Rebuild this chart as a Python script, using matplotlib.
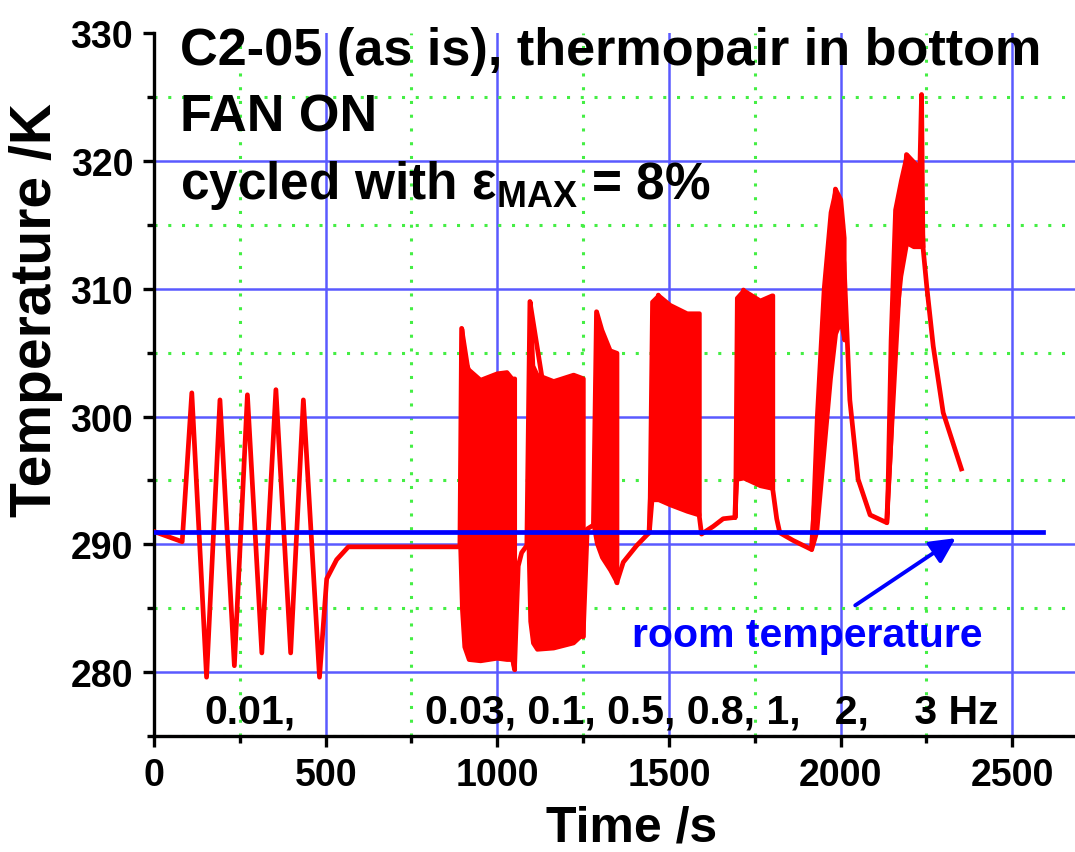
import numpy as np
import matplotlib
matplotlib.use('Agg')
import matplotlib.pyplot as plt
from matplotlib.ticker import MultipleLocator

plt.rcParams['font.family'] = 'Liberation Sans'
plt.rcParams['font.weight'] = 'bold'
plt.rcParams['axes.labelweight'] = 'bold'
plt.rcParams['mathtext.fontset'] = 'custom'
plt.rcParams['mathtext.rm'] = 'Liberation Sans:bold'
plt.rcParams['mathtext.bf'] = 'Liberation Sans:bold'

# Temperature trace outside the dense cycling blocks (time /s, T /K)
t_trace = [0, 82, 110, 153, 192, 234, 272, 314, 355, 398, 435, 482, 503, 532, 566, 891,
           896, 1050, 1061, 1071, 1086,
           1095, 1250, 1262, 1280,
           1289, 1348, 1367, 1406, 1442,
           1469, 1588, 1595, 1629, 1658, 1692,
           1717, 1802, 1814, 1823, 1862, 1915,
           1985, 2010, 2027, 2051, 2086, 2134,
           2192, 2231, 2236, 2240, 2251, 2270, 2299, 2352]
T_trace = [291.0, 290.2, 301.85, 279.6, 301.3, 280.5, 301.7, 281.5, 302.1, 281.5, 301.3, 279.6, 287.3, 288.8, 289.8, 289.8,
           306.9, 280.2, 288.3, 289.35, 289.9,
           309.0, 282.8, 291.2, 291.5,
           308.2, 287.0, 288.6, 289.9, 290.9,
           309.5, 292.3, 290.8, 291.4, 292.0, 292.1,
           309.9, 294.4, 292.0, 290.9, 290.3, 289.6,
           317.8, 312.0, 301.3, 295.1, 292.3, 291.7,
           320.5, 319.4, 325.2, 313.3, 310.2, 305.5, 300.3, 295.9]

# Envelopes of the fast cycling blocks (0.03 ... 3 Hz)
b1_t = [891, 896, 903, 916, 950, 998, 1027, 1042, 1050]
b1_hi = [289.8, 306.9, 304.5, 303.7, 302.9, 303.4, 303.5, 303.0, 303.0]
b1_lo = [289.8, 285.0, 282.0, 281.0, 280.9, 281.1, 281.0, 281.0, 280.2]

b2_t = [1090, 1095, 1103, 1115, 1163, 1221, 1241, 1250]
b2_hi = [289.9, 309.0, 304.0, 303.3, 302.8, 303.3, 303.1, 303.0]
b2_lo = [289.9, 284.0, 282.3, 281.8, 281.9, 282.3, 282.8, 282.8]

b3_t = [1280, 1289, 1304, 1328, 1348]
b3_hi = [291.5, 308.2, 306.8, 305.2, 305.0]
b3_lo = [291.5, 290.1, 289.0, 288.0, 287.0]

b4_t = [1442, 1450, 1469, 1503, 1552, 1588]
b4_hi = [290.9, 309.0, 309.5, 308.75, 308.1, 308.1]
b4_lo = [290.9, 293.5, 293.5, 293.1, 292.6, 292.3]

b5_t = [1692, 1697, 1717, 1765, 1799, 1802]
b5_hi = [292.1, 309.3, 309.9, 309.1, 309.5, 309.5]
b5_lo = [292.1, 295.1, 295.2, 294.6, 294.4, 294.4]

b6_t = [1915, 1930, 1950, 1970, 1985, 2000, 2010]
b6_hi = [289.6, 300.0, 310.0, 316.0, 317.8, 317.0, 314.0]
b6_lo = [289.6, 291.0, 297.0, 303.0, 306.5, 307.5, 306.0]

b7_t = [2134, 2145, 2158, 2175, 2192, 2212, 2231, 2240]
b7_hi = [291.7, 306.0, 316.2, 318.5, 320.5, 319.8, 319.4, 313.3]
b7_lo = [291.7, 297.5, 306.5, 311.0, 313.6, 313.3, 313.3, 313.3]

blocks = [(b1_t, b1_hi, b1_lo), (b2_t, b2_hi, b2_lo), (b3_t, b3_hi, b3_lo),
          (b4_t, b4_hi, b4_lo), (b5_t, b5_hi, b5_lo), (b6_t, b6_hi, b6_lo),
          (b7_t, b7_hi, b7_lo)]

room_T = 291.0
room_t_end = 2590

fig = plt.figure(figsize=(10.75, 8.53), dpi=100)
ax = fig.add_axes([0.1433, 0.136, 0.8567, 0.824])

red = '#ff0000'
ax.plot(t_trace, T_trace, color=red, lw=3.4, zorder=3, solid_joinstyle='round')
for bt, bhi, blo in blocks:
    ax.fill_between(bt, blo, bhi, color=red, lw=3.0, edgecolor=red, zorder=3)

# room temperature line
ax.plot([0, room_t_end], [room_T, room_T], color='#0000ff', lw=3.4, zorder=4)
ax.annotate('', xy=(2342, 290.6), xytext=(2036, 285.1),
            arrowprops=dict(arrowstyle='-|>', color='#0000ff', lw=2.8, mutation_scale=38), zorder=5)
ax.text(1902, 282.9, 'room temperature', color='#0000ff', fontsize=29.5, ha='center', va='center', zorder=5)

# frequency labels
ax.text(280, 276.9, '0.01,', fontsize=29.5, ha='center', va='center', zorder=5)
ax.text(1626, 276.9, '0.03, 0.1, 0.5, 0.8, 1,   2,    3 Hz', fontsize=29.5, ha='center', va='center', zorder=5)

# header text
ax.text(0.028, 0.956, 'C2-05 (as is), thermopair in bottom', transform=ax.transAxes, fontsize=37.6, va='baseline')
ax.text(0.028, 0.861, 'FAN ON', transform=ax.transAxes, fontsize=37.6, va='baseline')
ax.text(0.028, 0.765, 'cycled with ε$_{\\rm MAX}$ = 8%', transform=ax.transAxes, fontsize=37, va='baseline')

# axes and grid
ax.set_xlim(0, 2683)
ax.set_ylim(275, 330)
ax.set_xticks([0, 500, 1000, 1500, 2000, 2500])
ax.set_yticks([280, 290, 300, 310, 320, 330])
ax.xaxis.set_minor_locator(MultipleLocator(250))
ax.yaxis.set_minor_locator(MultipleLocator(5))
ax.grid(which='major', color='#5a5aff', lw=1.8, zorder=1)
ax.grid(which='minor', color='#44ee44', lw=2.2, linestyle=(0, (1, 3.5)), zorder=1)
ax.set_axisbelow(True)
for line, loc in zip(ax.yaxis.get_gridlines(), ax.get_yticks()):
    if loc == 330:
        line.set_visible(False)

for s in ['top', 'right']:
    ax.spines[s].set_visible(False)
for s in ['left', 'bottom']:
    ax.spines[s].set_linewidth(2.4)
ax.tick_params(which='major', direction='out', length=8, width=2.4, labelsize=27, pad=7)
ax.tick_params(which='minor', direction='out', length=5, width=2.4)

ax.set_xlabel('Time /s', fontsize=36)
ax.set_ylabel('Temperature /K', fontsize=41)
ax.xaxis.label.set_va('baseline')
ax.xaxis.set_label_coords(0.518, -0.149)
ax.yaxis.set_label_coords(-0.099, 0.607)

fig.savefig('out.png', dpi=100)
